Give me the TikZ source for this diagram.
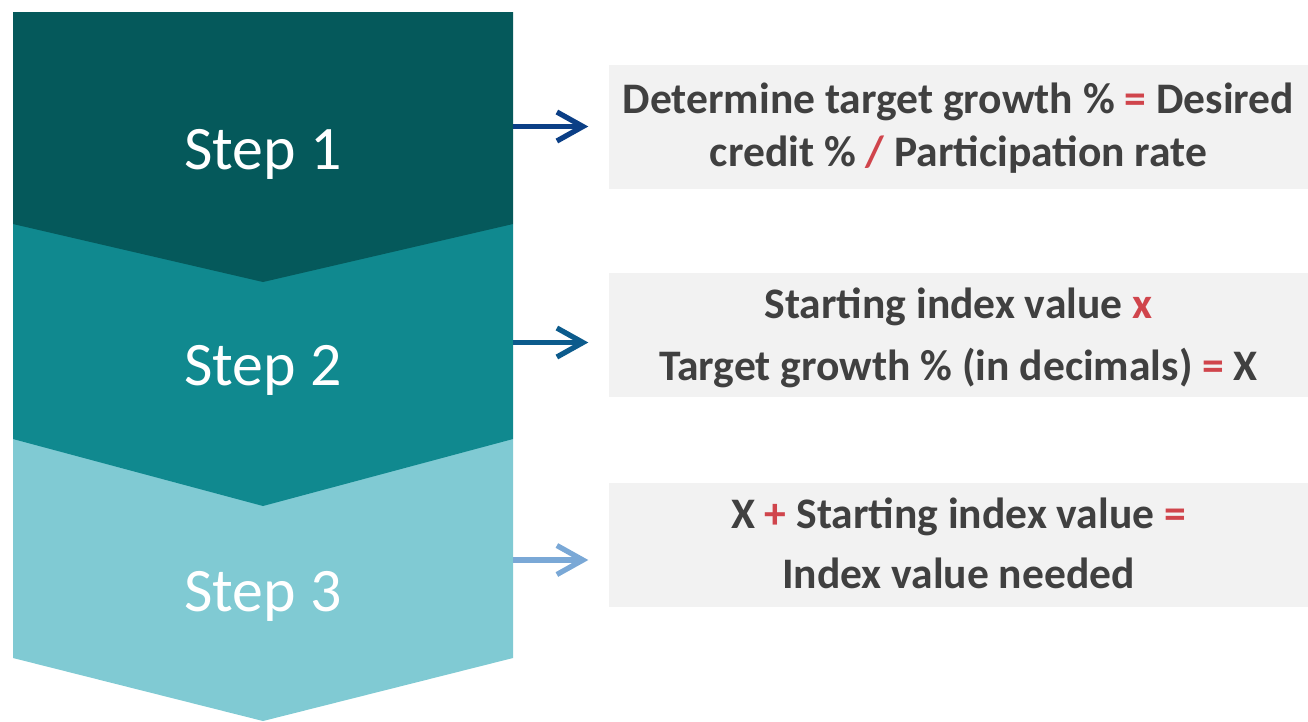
\documentclass[tikz,border=0pt]{standalone}
\usepackage{fontspec}
\setmainfont{Carlito}
\usetikzlibrary{arrows.meta}

\definecolor{tealdark}{HTML}{05595B}
\definecolor{tealmid}{HTML}{10898F}
\definecolor{teallight}{HTML}{80CAD3}
\definecolor{boxgray}{HTML}{F2F2F2}
\definecolor{textgray}{HTML}{404040}
\definecolor{opred}{HTML}{D0454C}
\definecolor{arrowone}{HTML}{0B3F86}
\definecolor{arrowtwo}{HTML}{0C5B8C}
\definecolor{arrowthree}{HTML}{7AA8D6}

\newcommand{\op}[1]{\textcolor{opred}{#1}}

\tikzset{
  steplabel/.style={text=white, font=\fontsize{17.6}{20}\selectfont},
  infobox/.style={fill=boxgray, text=textgray, minimum width=6.99cm, minimum height=1.24cm,
    inner sep=0pt, align=center, text depth=0.1cm, font=\bfseries\fontsize{12.4}{15}\selectfont},
  steparrow/.style={->, line width=1.5pt, shorten >=0.2cm}
}

\begin{document}
\begin{tikzpicture}[>={Straight Barb[length=2.6mm,width=2.9mm,line width=1.5pt]}]
  \useasboundingbox (0,0) rectangle (13.08,-7.21);
  % chevron bands, lowest first so the points overlap the band below
  \fill[teallight] (0.13,-4.39) -- (5.13,-4.39) -- (5.13,-6.58) -- (2.63,-7.21) -- (0.13,-6.58) -- cycle;
  \fill[tealmid] (0.13,-2.24) -- (5.13,-2.24) -- (5.13,-4.39) -- (2.63,-5.06) -- (0.13,-4.39) -- cycle;
  \fill[tealdark] (0.13,-0.12) -- (5.13,-0.12) -- (5.13,-2.24) -- (2.63,-2.82) -- (0.13,-2.24) -- cycle;
  \node[steplabel] (step1) at (2.63,-1.54) {Step 1};
  \node[steplabel] (step2) at (2.63,-3.70) {Step 2};
  \node[steplabel] (step3) at (2.63,-5.96) {Step 3};

  % formula boxes
  \node[infobox, text height=0.9cm] (box1) at (9.585,-1.265)
    {Determine target growth \% \op{=} Desired\\credit \% \op{/} Participation rate};
  \node[infobox, text height=1.0cm, font=\bfseries\fontsize{12.4}{17.6}\selectfont] (box2) at (9.585,-3.35)
    {Starting index value \op{x}\\Target growth \% (in decimals) \op{=} X};
  \node[infobox, text height=0.96cm, font=\bfseries\fontsize{12.4}{17}\selectfont] (box3) at (9.585,-5.45)
    {X \op{+} Starting index value \op{=}\\Index value needed};

  % arrows from the chevrons to the boxes
  \coordinate (out1) at (5.13,-1.265);
  \coordinate (out2) at (5.13,-3.425);
  \coordinate (out3) at (5.13,-5.6);
  \draw[steparrow, arrowone] (out1) -- (box1.west);
  \draw[steparrow, arrowtwo] (out2) -- (box2.west |- out2);
  \draw[steparrow, arrowthree] (out3) -- (box3.west |- out3);
\end{tikzpicture}
\end{document}
